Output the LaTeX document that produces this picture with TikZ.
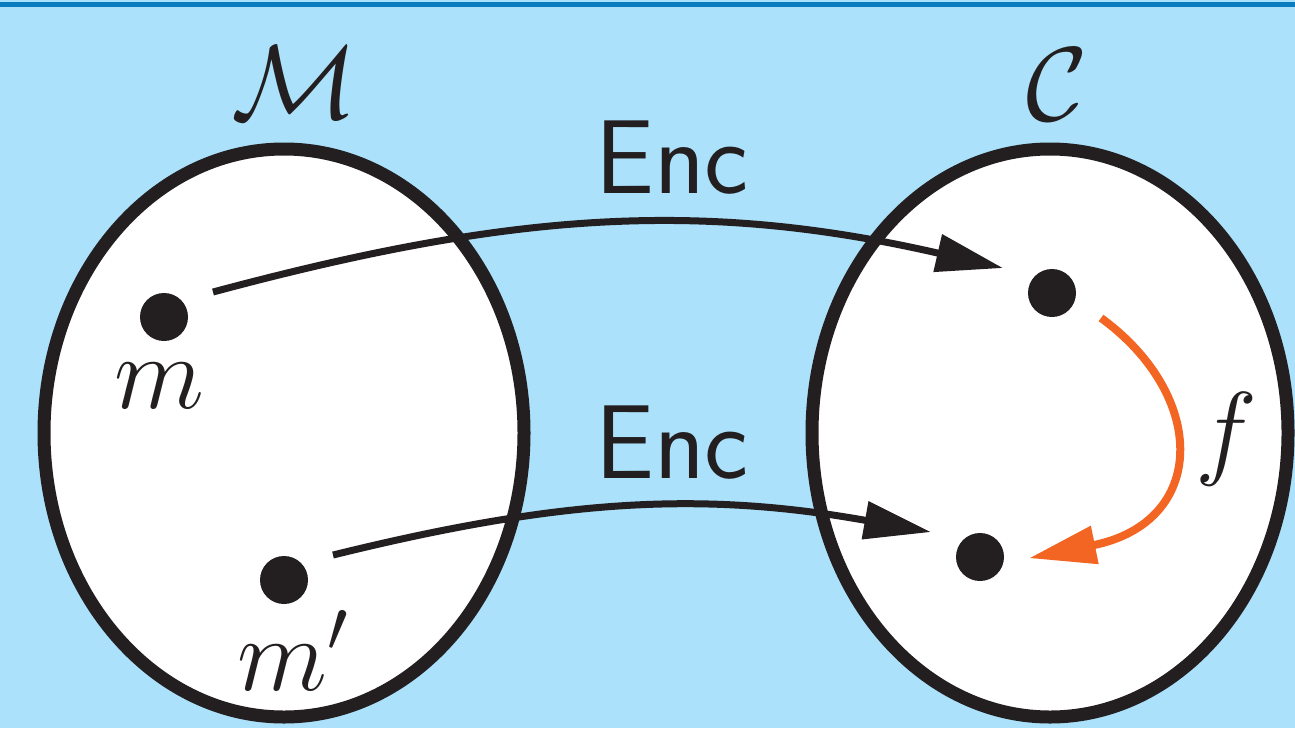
\RequirePackage{fix-cm}
\documentclass[tikz,border=0pt]{standalone}
\usetikzlibrary{arrows.meta}
\definecolor{skyback}{HTML}{ABE1FA}
\definecolor{barblue}{HTML}{0B7CC0}
\definecolor{ink}{HTML}{231F20}
\definecolor{fmap}{HTML}{F26522}
\begin{document}
\begin{tikzpicture}[x=1pt,y=-1pt,
  setshape/.style={draw=ink, line width=13pt, fill=white},
  elem/.style={circle, fill=ink, inner sep=0pt, minimum size=48pt, outer sep=31pt},
  encarrow/.style={draw=ink, line width=7pt, -{Triangle[length=67pt,width=37pt]}},
  fmaparrow/.style={draw=fmap, line width=8pt, -{Triangle[length=67pt,width=37pt]}},
  lbl/.style={text=ink, inner sep=0pt, font=\fontsize{105}{110}\selectfont}]
  % canvas and top rule
  \useasboundingbox (0,0) rectangle (1295,728);
  \fill[skyback] (0,0) rectangle (1295,728);
  \fill[barblue] (0,1.5) rectangle (1295,7);

  % message space and ciphertext space
  \coordinate (Mset) at (284,433);
  \coordinate (Cset) at (1050,433);
  \begin{scope}
    \clip (0,0) rectangle (1295,728);
    \path[setshape] (Mset) ellipse [x radius=240, y radius=284];
    \path[setshape] (Cset) ellipse [x radius=238, y radius=284];
  \end{scope}

  % elements
  \node[elem] (m)  at (164,317) {};
  \node[elem] (mp) at (284,580) {};
  \node[elem] (c1) at (1052,293) {};
  \node[elem] (c2) at (980,557) {};

  % encryption maps
  \draw[encarrow] (m.27) .. controls (511,212) and (702,199) .. (c1.153);
  \draw[encarrow] (mp.27) .. controls (560,499) and (701,491) .. (c2.153);

  % homomorphic map on ciphertexts
  \draw[fmaparrow, shorten >=-6pt] (c1.-27) .. controls (1208,396) and (1208,522) .. (c2.0);

  % labels
  \node[lbl] (Mlab) at (295,83) {$\mathcal{M}$};
  \node[lbl] (Clab) at (1057,85) {$\mathcal{C}$};
  \node[lbl, anchor=base] (enc1) at (672,193) {\sffamily Enc};
  \node[lbl, anchor=base] (enc2) at (672,478) {\sffamily Enc};
  \node[lbl, anchor=base] (mlab) at (159,408) {$m$};
  \node[lbl, anchor=base] (mplab) at (293,690) {$m'$};
  \node[lbl, anchor=base] (flab) at (1226,465) {$f$};
\end{tikzpicture}
\end{document}
